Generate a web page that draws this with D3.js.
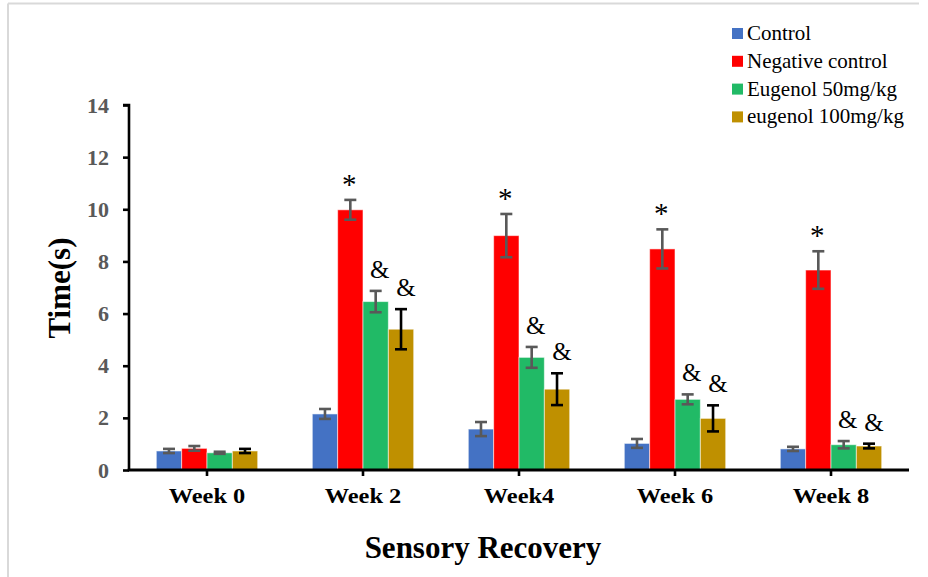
<!DOCTYPE html>
<html>
<head>
<meta charset="utf-8">
<script src="https://cdn.jsdelivr.net/npm/d3@7"></script>
<style>
  html, body { margin: 0; padding: 0; background: #fff; }
  svg { display: block; }
  text { font-family: "Liberation Serif", "Times New Roman", serif; }
</style>
</head>
<body>
<svg id="chart" width="928" height="577"></svg>
<script>
// ---- data ----
const categories = ["Week 0", "Week 2", "Week4", "Week 6", "Week 8"];
const seriesNames = ["Control", "Negative control", "Eugenol 50mg/kg", "eugenol 100mg/kg"];
const controlValues   = [0.73, 2.15, 1.57, 1.02, 0.81];
const controlErrors   = [0.08, 0.19, 0.27, 0.17, 0.08];
const negativeValues  = [0.83, 9.98, 8.99, 8.48, 7.67];
const negativeErrors  = [0.09, 0.38, 0.83, 0.75, 0.72];
const eug50Values     = [0.66, 6.46, 4.32, 2.71, 0.97];
const eug50Errors     = [0.04, 0.41, 0.40, 0.19, 0.14];
const eug100Values    = [0.73, 5.40, 3.10, 1.98, 0.92];
const eug100Errors    = [0.08, 0.77, 0.61, 0.50, 0.09];
const controlMarks    = ["", "", "", "", ""];
const negativeMarks   = ["", "*", "*", "*", "*"];
const eug50Marks      = ["", "&", "&", "&", "&"];
const eug100Marks     = ["", "&", "&", "&", "&"];
const yTicks = [0, 2, 4, 6, 8, 10, 12, 14];

// ---- styles ----
const colors = ["#4472C4", "#FF0000", "#21BA66", "#BF9000"];
const errColors = ["#595959", "#595959", "#595959", "#000000"];

const series = [
  { name: seriesNames[0], values: controlValues, errors: controlErrors, marks: controlMarks },
  { name: seriesNames[1], values: negativeValues, errors: negativeErrors, marks: negativeMarks },
  { name: seriesNames[2], values: eug50Values, errors: eug50Errors, marks: eug50Marks },
  { name: seriesNames[3], values: eug100Values, errors: eug100Errors, marks: eug100Marks }
];

const svg = d3.select("#chart");

// outer frame (partial border)
svg.append("line").attr("x1", 8).attr("x2", 919).attr("y1", 3.5).attr("y2", 3.5)
  .attr("stroke", "#d9d9d9").attr("stroke-width", 2);
svg.append("line").attr("x1", 8).attr("x2", 8).attr("y1", 3.5).attr("y2", 577)
  .attr("stroke", "#d9d9d9").attr("stroke-width", 2);

const x0 = d3.scaleBand().domain(categories).range([129, 909])
  .paddingInner(0.35).paddingOuter(0.175);
const x1 = d3.scaleBand().domain(d3.range(series.length)).range([0, x0.bandwidth()]);
const y = d3.scaleLinear().domain([0, 14]).range([470, 105]);

// bars
series.forEach((s, si) => {
  const g = svg.append("g");
  g.selectAll("rect").data(s.values).enter().append("rect")
    .attr("x", (d, i) => x0(categories[i]) + x1(si))
    .attr("y", d => y(d))
    .attr("width", x1.bandwidth())
    .attr("height", d => y(0) - y(d))
    .attr("fill", colors[si])
    .attr("stroke", "rgba(255,255,255,0.55)")
    .attr("stroke-width", 1);
});

// error bars
series.forEach((s, si) => {
  const g = svg.append("g").attr("stroke", errColors[si]).attr("stroke-width", 2.6);
  s.values.forEach((v, i) => {
    const cx = x0(categories[i]) + x1(si) + x1.bandwidth() / 2;
    const e = s.errors[i];
    g.append("line").attr("x1", cx).attr("x2", cx).attr("y1", y(v - e)).attr("y2", y(v + e));
    g.append("line").attr("x1", cx - 6).attr("x2", cx + 6).attr("y1", y(v - e)).attr("y2", y(v - e));
    g.append("line").attr("x1", cx - 6).attr("x2", cx + 6).attr("y1", y(v + e)).attr("y2", y(v + e));
  });
});

// significance marks
series.forEach((s, si) => {
  s.marks.forEach((m, i) => {
    if (!m) return;
    const cx = x0(categories[i]) + x1(si) + x1.bandwidth() / 2;
    const top = y(s.values[i] + s.errors[i]);
    const isStar = m === "*";
    svg.append("text")
      .attr("x", cx + (si === 3 ? 5 : (si === 2 ? 4 : -1)))
      .attr("y", top - (isStar ? 6 : 13))
      .attr("text-anchor", "middle")
      .attr("font-size", isStar ? 29 : 25)
      .attr("fill", "#000")
      .text(m);
  });
});

// y axis
const yAxis = svg.append("g").attr("transform", "translate(129,0)")
  .call(d3.axisLeft(y).tickValues(yTicks).tickSize(6).tickPadding(14).tickFormat(d3.format("d")));
yAxis.selectAll("path, line").attr("stroke", "#000").attr("stroke-width", 2.6);
yAxis.select("path").attr("d", "M-6,105H0V471");
yAxis.selectAll("text").attr("font-size", 22).attr("font-weight", "bold")
  .attr("fill", "#595959");

// x axis
const xAxis = svg.append("g").attr("transform", "translate(0,470)")
  .call(d3.axisBottom(x0).tickSize(6).tickPadding(13));
xAxis.select("path").attr("d", "M127.7,0H909").attr("stroke", "#000").attr("stroke-width", 2.8);
xAxis.selectAll("line").attr("stroke", "#000").attr("stroke-width", 2.6);
xAxis.selectAll("text").attr("font-size", 20).attr("font-weight", "bold")
  .attr("fill", "#000")
  .each(function () {
    const len = this.getComputedTextLength();
    d3.select(this).attr("textLength", len * 1.22).attr("lengthAdjust", "spacingAndGlyphs");
  });

// axis titles
svg.append("text").attr("x", 483).attr("y", 558).attr("text-anchor", "middle")
  .attr("font-size", 31).attr("font-weight", "bold").text("Sensory Recovery");
svg.append("text").attr("transform", "translate(70,288) rotate(-90)")
  .attr("text-anchor", "middle").attr("font-size", 31).attr("font-weight", "bold").text("Time(s)");

// legend
const legend = svg.append("g").attr("transform", "translate(732,28)");
seriesNames.forEach((n, i) => {
  legend.append("rect").attr("x", 0).attr("y", i * 27.8).attr("width", 11).attr("height", 11)
    .attr("fill", colors[i]);
  legend.append("text").attr("x", 15).attr("y", i * 27.8 + 12).attr("font-size", 21)
    .attr("fill", "#000").text(n);
});
</script>
</body>
</html>
